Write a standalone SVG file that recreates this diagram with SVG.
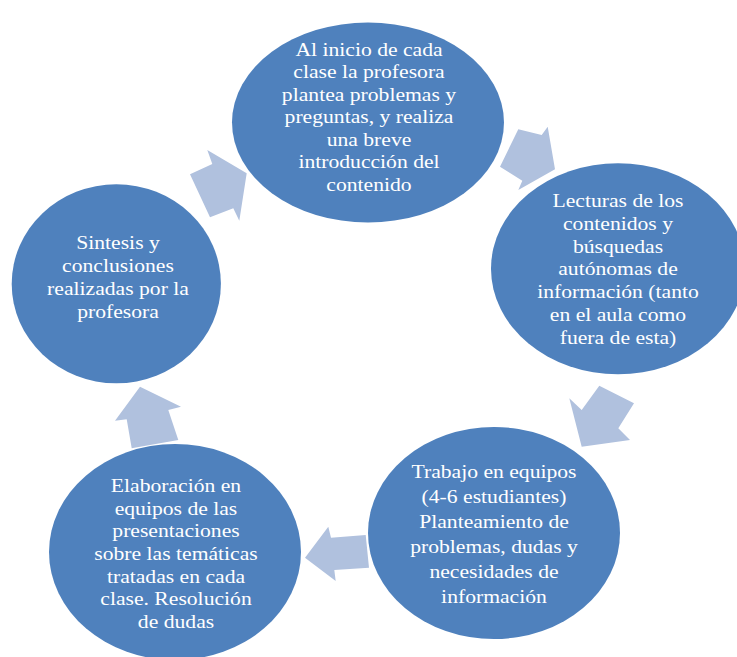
<svg xmlns="http://www.w3.org/2000/svg" width="737" height="657" viewBox="0 0 737 657">
<style>
.node{fill:#4F81BD;}
.lbl{font-size:19.5px;fill:#FFFFFF;text-anchor:middle;}
.arr{fill:#B0C1DE;}
</style>
<rect width="737" height="657" fill="#FFFFFF"/>
<g id="connectors">
<polygon class="arr" points="207.3,150 212.3,164 190,174.3 210,217.3 233.3,208.3 239.3,220.7 246.7,173.3"/>
<polygon class="arr" points="518.3,129.3 541.7,135 547.7,126.7 555,169.3 518.3,190 522.3,180.7 500,166.7"/>
<polygon class="arr" points="599.3,385.7 634,403.3 618.3,428.3 630,440 581.7,446.7 569.3,398.3 581.7,410"/>
<polygon class="arr" points="365.7,535 331,537.7 328.3,526.7 305,557.7 335.7,581 334.3,570 369,567.7"/>
<polygon class="arr" points="140,386.7 181,406.7 168.3,410 178.3,440 131.7,448.3 126.7,419.3 115,420.7"/>
</g>
<g font-family="Liberation Serif, Times New Roman, DejaVu Serif, serif">
<g id="n1">
<ellipse class="node" cx="368" cy="122.5" rx="136" ry="100"/>
<g transform="translate(369,0) scale(1.11,1)">
<text class="lbl" x="0" y="56">Al inicio de cada</text>
<text class="lbl" x="0" y="78.5">clase la profesora</text>
<text class="lbl" x="0" y="101">plantea problemas y</text>
<text class="lbl" x="0" y="123.5">preguntas, y realiza</text>
<text class="lbl" x="0" y="146">una breve</text>
<text class="lbl" x="0" y="168.5">introducción del</text>
<text class="lbl" x="0" y="191">contenido</text>
</g>
</g>
<g id="n2">
<ellipse class="node" cx="618" cy="268.7" rx="127" ry="105.5"/>
<g transform="translate(618,0) scale(1.11,1)">
<text class="lbl" x="0" y="207.4">Lecturas de los</text>
<text class="lbl" x="0" y="230.1">contenidos y</text>
<text class="lbl" x="0" y="252.8">búsquedas</text>
<text class="lbl" x="0" y="275.5">autónomas de</text>
<text class="lbl" x="0" y="298.2">información (tanto</text>
<text class="lbl" x="0" y="320.9">en el aula como</text>
<text class="lbl" x="0" y="343.6">fuera de esta)</text>
</g>
</g>
<g id="n3">
<ellipse class="node" cx="494" cy="533" rx="126" ry="106"/>
<g transform="translate(494,0) scale(1.11,1)">
<text class="lbl" x="0" y="477.6">Trabajo en equipos</text>
<text class="lbl" x="0" y="502.7">(4-6 estudiantes)</text>
<text class="lbl" x="0" y="527.8">Planteamiento de</text>
<text class="lbl" x="0" y="552.9">problemas, dudas y</text>
<text class="lbl" x="0" y="578">necesidades de</text>
<text class="lbl" x="0" y="603.1">información</text>
</g>
</g>
<g id="n4">
<ellipse class="node" cx="175" cy="552" rx="126" ry="108"/>
<g transform="translate(176,0) scale(1.11,1)">
<text class="lbl" x="0" y="492">Elaboración en</text>
<text class="lbl" x="0" y="514.7">equipos de las</text>
<text class="lbl" x="0" y="537.4">presentaciones</text>
<text class="lbl" x="0" y="560.1">sobre las temáticas</text>
<text class="lbl" x="0" y="582.8">tratadas en cada</text>
<text class="lbl" x="0" y="605.5">clase. Resolución</text>
<text class="lbl" x="0" y="628.2">de dudas</text>
</g>
</g>
<g id="n5">
<ellipse class="node" cx="116.3" cy="283.8" rx="104.6" ry="99.5"/>
<g transform="translate(118,0) scale(1.11,1)">
<text class="lbl" x="0" y="249.3">Sintesis y</text>
<text class="lbl" x="0" y="272.2">conclusiones</text>
<text class="lbl" x="0" y="295.1">realizadas por la</text>
<text class="lbl" x="0" y="318">profesora</text>
</g>
</g>
</g>
</svg>
